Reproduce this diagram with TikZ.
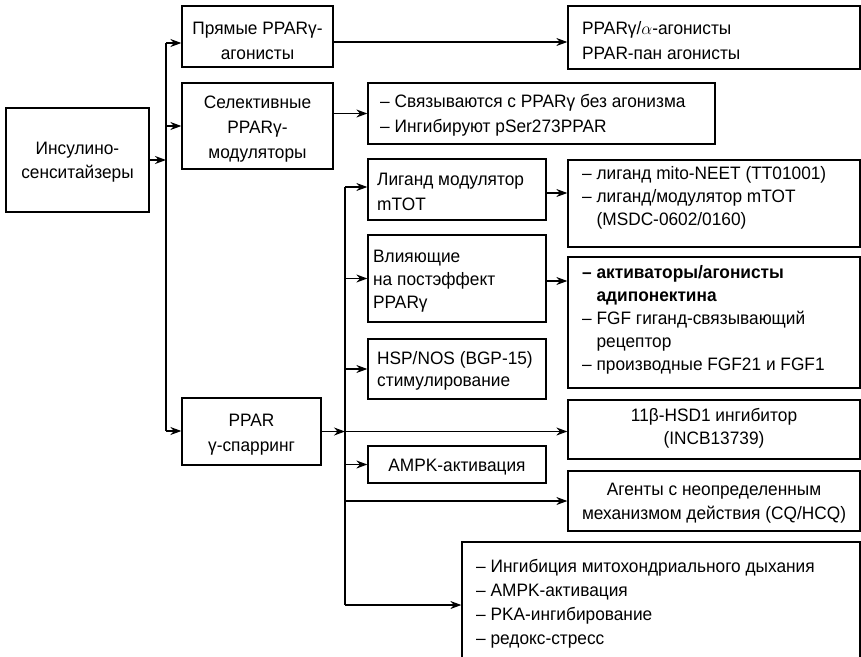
\documentclass[tikz,border=0pt]{standalone}
\usepackage{fontspec}
\setmainfont{Liberation Sans}[FakeStretch=0.96]
\usetikzlibrary{arrows.meta}
\tikzset{
  bx/.style={draw, line width=1.3pt, inner sep=0pt},
  txt/.style={inner sep=0pt, font=\fontsize{18}{24.5}\selectfont},
  ltxt/.style={txt, align=left, anchor=west},
  ctxt/.style={txt, align=center},
  arr/.style={line width=1.3pt, -{Stealth[length=11pt,width=8pt]}},
  ln/.style={line width=1.3pt}
}
\begin{document}
\begin{tikzpicture}[x=1pt,y=-1pt]
\useasboundingbox (0,0) rectangle (861,656);
% boxes: left column
\node[bx, minimum width=143, minimum height=104] (ins) at (77.5,160) {};
\node[bx, minimum width=151, minimum height=61] (pr) at (257.5,36.5) {};
\node[bx, minimum width=151, minimum height=86] (sel) at (257.5,126) {};
\node[bx, minimum width=139, minimum height=67] (spar) at (251.5,431.5) {};
% boxes: middle column
\node[bx, minimum width=347, minimum height=61] (selr) at (541.5,113.5) {};
\node[bx, minimum width=178, minimum height=61] (lig) at (457,189.5) {};
\node[bx, minimum width=178, minimum height=87] (vl) at (457,278.5) {};
\node[bx, minimum width=178, minimum height=60] (hsp) at (457,369) {};
\node[bx, minimum width=178, minimum height=37] (ampk) at (457,464.5) {};
% boxes: right column
\node[bx, minimum width=292, minimum height=63] (ppa) at (714,37.5) {};
\node[bx, minimum width=292, minimum height=87] (mito) at (714,203.5) {};
\node[bx, minimum width=292, minimum height=131] (adipo) at (714,322.5) {};
\node[bx, minimum width=292, minimum height=59] (hsd) at (714,429.5) {};
\node[bx, minimum width=292, minimum height=60] (agents) at (714,501) {};
\node[bx, minimum width=398, minimum height=118] (bot) at (661,601) {};
% texts
\node[ctxt] (t-ins) at (77.5,162) {Инсулино-\\сенситайзеры};
\node[ctxt, font=\fontsize{18}{25.5}\selectfont] (t-pr) at (257.5,41) {Прямые PPARγ-\\агонисты};
\node[ctxt, font=\fontsize{18}{25}\selectfont] (t-sel) at (257.5,129) {Селективные\\PPARγ-\\модуляторы};
\node[ctxt] (t-spar) at (251.5,434.5) {PPAR\\γ-спарринг};
\node[ltxt] (t-ppa) at (582,40.5) {PPARγ/$\alpha$-агонисты\\PPAR-пан агонисты};
\node[ltxt] (t-selr) at (380,115.5) {– Связываются с PPARγ без агонизма\\– Ингибируют pSer273PPAR};
\node[ltxt] (t-lig) at (377,192) {Лиганд модулятор\\mTOT};
\node[ltxt, font=\fontsize{18}{23}\selectfont] (t-mito) at (582,197.5) {– лиганд mito-NEET (TT01001)\\– лиганд/модулятор mTOT\\\phantom{– }(MSDC-0602/0160)};
\node[ltxt, font=\fontsize{18}{23}\selectfont] (t-vl) at (373,281) {Влияющие\\на постэффект\\PPARγ};
\node[ltxt, font=\fontsize{18}{23}\selectfont] (t-adipo) at (582,319.5) {\textbf{– активаторы/агонисты}\\\phantom{– }\textbf{адипонектина}\\– FGF гиганд-связывающий\\\phantom{– }рецептор\\– производные FGF21 и FGF1};
\node[ltxt, font=\fontsize{18}{22.5}\selectfont] (t-hsp) at (377,371) {HSP/NOS (BGP-15)\\стимулирование};
\node[ctxt] (t-ampk) at (457,467) {AMPK-активация};
\node[ctxt, font=\fontsize{18}{23.5}\selectfont] (t-hsd) at (714,428.5) {11β-HSD1 ингибитор\\(INCB13739)};
\node[ctxt] (t-agents) at (714,503) {Агенты с неопределенным\\механизмом действия (CQ/HCQ)};
\node[ltxt, font=\fontsize{18}{24}\selectfont] (t-bot) at (476,603.5) {– Ингибиция митохондриального дыхания\\– AMPK-активация\\– PKA-ингибирование\\– редокс-стресс};
% left bus
\coordinate (busLtop) at (166,43);
\coordinate (busLbot) at (166,431);
\draw[ln] (busLtop) -- (busLbot);
\draw[arr] (ins.east) -- (ins.east -| busLtop);
\draw[arr] (busLtop) -- (busLtop -| pr.west);
\draw[arr] (busLtop |- sel.west) -- (sel.west);
\draw[arr] (busLbot) -- (busLbot -| spar.west);
% direct links
\draw[arr] ([yshift=-5.5pt]pr.east) -- ([yshift=-5.5pt]pr.east -| ppa.west);
\draw[arr] (sel.east |- selr.west) -- (selr.west);
\draw[arr] ([yshift=-3.5pt]lig.east) -- ([yshift=-3.5pt]lig.east -| mito.west);
\draw[arr] ([yshift=-2.5pt]vl.east) -- ([yshift=-2.5pt]vl.east -| adipo.west);
% right bus
\coordinate (busRtop) at (345,187);
\coordinate (busRbot) at (345,605);
\draw[ln] (busRtop) -- (busRbot);
\draw[arr] (spar.east) -- (spar.east -| busRtop);
\draw[arr] (spar.east -| busRtop) -- (spar.east -| hsd.west);
\draw[arr] (busRtop) -- (busRtop -| lig.west);
\draw[arr] (vl.west -| busRtop) -- (vl.west);
\draw[arr] (hsp.west -| busRtop) -- (hsp.west);
\draw[arr] (ampk.west -| busRtop) -- (ampk.west);
\draw[arr] (agents.west -| busRtop) -- (agents.west);
\draw[arr] (busRbot) -- (busRbot -| bot.west);
\end{tikzpicture}
\end{document}
